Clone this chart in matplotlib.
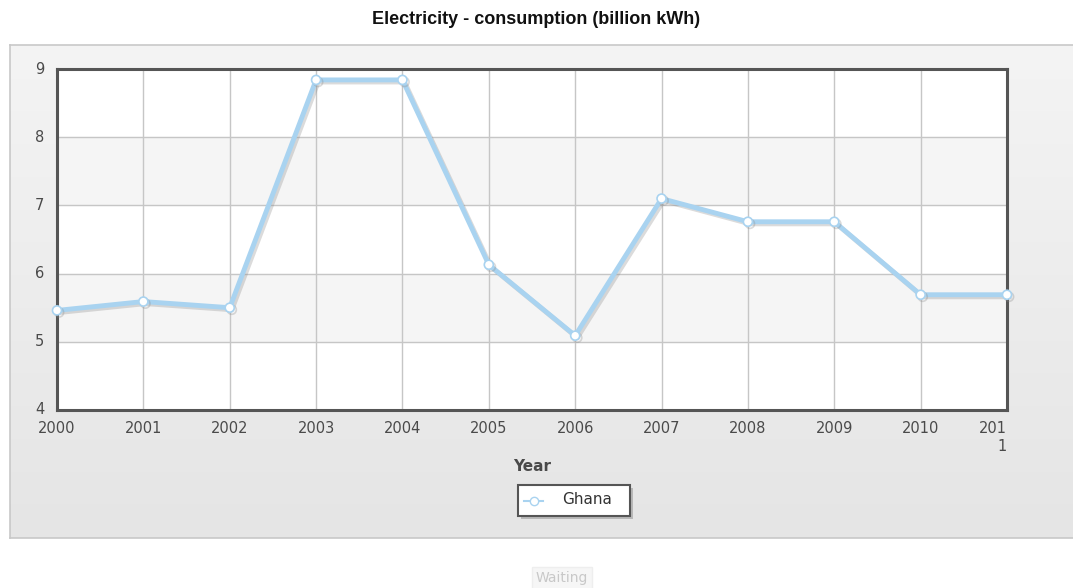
import numpy as np
import matplotlib
matplotlib.use("Agg")
import matplotlib.pyplot as plt
import matplotlib.patheffects as pe
from matplotlib.patches import Rectangle

years = [2000, 2001, 2002, 2003, 2004, 2005, 2006, 2007, 2008, 2009, 2010, 2011]
ghana = [5.46, 5.59, 5.50, 8.84, 8.84, 6.13, 5.09, 7.10, 6.76, 6.76, 5.69, 5.69]
tick_labels = ["2000", "2001", "2002", "2003", "2004", "2005", "2006",
               "2007", "2008", "2009", "2010", "201\n1"]
y_ticks = [4, 5, 6, 7, 8, 9]

W, H = 1073, 588
fig = plt.figure(figsize=(W / 100, H / 100), dpi=100)
fig.patch.set_facecolor("white")

# grey panel behind the chart with a soft vertical gradient
bg = fig.add_axes([10 / W, 1 - 538 / H, (W - 10) / W, (538 - 45) / H], zorder=0)
grad = np.linspace(0, 1, 256).reshape(-1, 1)
bg.imshow(grad, aspect="auto", cmap=matplotlib.colors.LinearSegmentedColormap.from_list(
    "panel", ["#f4f4f4", "#e5e5e5"]), extent=[0, 1, 0, 1], origin="upper")
bg.set_xlim(0, 1)
bg.set_ylim(0, 1)
bg.set_xticks([])
bg.set_yticks([])
for s in bg.spines.values():
    s.set_color("#c8c8c8")
    s.set_linewidth(1.2)
bg.spines["right"].set_visible(False)

ax = fig.add_axes([57 / W, 1 - 410 / H, (1007 - 57) / W, (410 - 69) / H], zorder=2)
ax.set_facecolor("white")
ax.set_xlim(2000, 2011)
ax.set_ylim(4, 9)

# alternating bands
for lo in (5, 7):
    ax.axhspan(lo, lo + 1, color="#f5f5f5", zorder=0)

ax.set_xticks(years)
ax.set_xticklabels(tick_labels)
ax.set_yticks(y_ticks)
ax.grid(True, color="#c6c6c6", linewidth=1.0, zorder=1)
ax.tick_params(length=0, colors="#4a4a4a")
for lbl in ax.get_xticklabels() + ax.get_yticklabels():
    lbl.set_fontfamily("DejaVu Sans")
    lbl.set_fontsize(10.5)
last = ax.get_xticklabels()[-1]
last.set_horizontalalignment("right")
last.set_multialignment("right")
for lbl in ax.get_yticklabels():
    lbl.set_verticalalignment("center")
ax.tick_params(axis="x", pad=8)
ax.tick_params(axis="y", pad=9)

for s in ax.spines.values():
    s.set_color("#555555")
    s.set_linewidth(2.2)

ax.plot(years, ghana, color="#a9d3f0", linewidth=3.5, marker="o",
        markersize=6.5, markerfacecolor="white", markeredgecolor="#a9d3f0",
        markeredgewidth=1.2, zorder=4, clip_on=False, label="Ghana",
        path_effects=[pe.SimpleLineShadow(offset=(1.5, -1.5), shadow_color="#888888", alpha=0.3),
                      pe.Normal()])

ax.set_xlabel("Year", fontsize=11, fontweight="bold", color="#4a4a4a",
              family="DejaVu Sans", labelpad=4)

fig.text(536 / W, 1 - 19 / H, "Electricity - consumption (billion kWh)",
         ha="center", va="center", fontsize=13, fontweight="bold",
         family="Liberation Sans", color="#111111")

# legend box with drop shadow
lx0, ly0, lw, lh = 518, 485, 112, 31
fig.patches.append(Rectangle(((lx0 + 3) / W, 1 - (ly0 + lh + 3) / H), lw / W, lh / H,
                             transform=fig.transFigure, facecolor="#9a9a9a",
                             edgecolor="none", alpha=0.6, zorder=3))
fig.patches.append(Rectangle((lx0 / W, 1 - (ly0 + lh) / H), lw / W, lh / H,
                             transform=fig.transFigure, facecolor="white",
                             edgecolor="#555555", linewidth=1.5, zorder=4))
fig.lines.append(plt.Line2D([(lx0 + 6) / W, (lx0 + 25) / W], [1 - 501 / H, 1 - 501 / H],
                            transform=fig.transFigure, color="#a9d3f0", linewidth=1.5,
                            zorder=5))
fig.lines.append(plt.Line2D([(lx0 + 16) / W], [1 - 501 / H], transform=fig.transFigure,
                            marker="o", markersize=6, markerfacecolor="white",
                            markeredgecolor="#a9d3f0", linestyle="none", zorder=6))
fig.text((lx0 + 44) / W, 1 - 500 / H, "Ghana", ha="left", va="center", fontsize=11,
         family="DejaVu Sans", color="#333333", zorder=6)

# loading indicator below the panel
fig.text(562 / W, 1 - 578 / H, "Waiting", ha="center", va="center", fontsize=10,
         color="#c8c8c8", family="DejaVu Sans",
         bbox=dict(boxstyle="square,pad=0.3", facecolor="#f6f6f6", edgecolor="#eeeeee"))

fig.savefig("out.png", dpi=100)
